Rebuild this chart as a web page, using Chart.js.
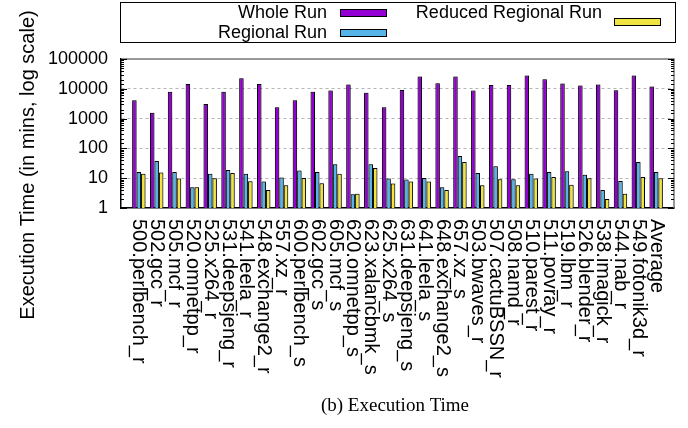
<!DOCTYPE html>
<html><head><meta charset="utf-8">
<script src="https://cdn.jsdelivr.net/npm/chart.js@4.4.1/dist/chart.umd.min.js"></script>
<style>html,body{margin:0;padding:0;background:#fff;}canvas{display:block;}</style>
</head><body>
<canvas id="c" width="688" height="428"></canvas>
<script>
const categories = ['500.perlbench_r','502.gcc_r','505.mcf_r','520.omnetpp_r','525.x264_r','531.deepsjeng_r','541.leela_r','548.exchange2_r','557.xz_r','600.perlbench_s','602.gcc_s','605.mcf_s','620.omnetpp_s','623.xalancbmk_s','625.x264_s','631.deepsjeng_s','641.leela_s','648.exchange2_s','657.xz_s','503.bwaves_r','507.cactuBSSN_r','508.namd_r','510.parest_r','511.povray_r','519.lbm_r','526.blender_r','538.imagick_r','544.nab_r','549.fotonik3d_r','Average'];
const wholeRun = [4100,1580,8000,14600,3100,8000,22500,14600,2400,4100,8000,8700,14000,7400,2400,9200,25700,15400,25700,8700,13500,13500,27700,21000,15000,13000,14000,9000,28000,12000];
const regionalRun = [16,38,16,5,14,19,14,7.7,10.5,18,16,29.6,2.9,29.6,9.8,9,10.2,5,56,15,25,9.2,14,16,17,13,4,8,35,16];
const reducedRegionalRun = [14,15.5,9.8,5,10,15,7.9,4,5.8,10.2,6.8,14,3,22,6.6,7.7,7.7,4,35,5.8,9.2,5.8,9.8,11,6,10,2,3,11,10];
const seriesNames = ['Whole Run','Regional Run','Reduced Regional Run'];
const seriesColors = ['#9400D3','#56B4E9','#F0E442'];
const yMin = 1, yMax = 100000;
const yTitle = 'Execution Time (in mins, log scale)';
const caption = '(b) Execution Time';

const FONT = "'Liberation Sans', Arial, sans-serif";
const seriesData = [wholeRun, regionalRun, reducedRegionalRun];
const isMajor = v => Math.abs(Math.log10(v) - Math.round(Math.log10(v))) < 1e-9;

const decorPlugin = {
  id: 'decor',
  beforeDatasetsDraw(chart) {
    const ctx = chart.ctx;
    ctx.save();
    ctx.shadowColor = 'rgba(0,0,0,0.45)';
    ctx.shadowBlur = 2;
  },
  afterDatasetsDraw(chart) {
    const ctx = chart.ctx;
    ctx.restore();
    const a = chart.chartArea, y = chart.scales.y;
    ctx.save();
    ctx.strokeStyle = '#777'; ctx.lineWidth = 1.5;
    ctx.beginPath(); ctx.moveTo(a.left, a.top); ctx.lineTo(a.right, a.top); ctx.lineTo(a.right, a.bottom); ctx.stroke();
    ctx.strokeStyle = '#000'; ctx.lineWidth = 1;
    y.ticks.forEach(t => {
      const py = Math.round(y.getPixelForValue(t.value)) + 0.5;
      const len = isMajor(t.value) ? 6 : 3;
      ctx.beginPath(); ctx.moveTo(a.left, py); ctx.lineTo(a.left + len, py);
      ctx.moveTo(a.right, py); ctx.lineTo(a.right - len, py); ctx.stroke();
    });
    ctx.restore();
  },
  afterDraw(chart) {
    const ctx = chart.ctx, x = chart.scales.x, a = chart.chartArea;
    ctx.save();
    ctx.fillStyle = '#000';
    ctx.font = '20px ' + FONT;
    ctx.textAlign = 'left'; ctx.textBaseline = 'middle';
    categories.forEach((c, i) => {
      const px = x.getPixelForValue(i);
      ctx.save(); ctx.translate(px, a.bottom + 11); ctx.rotate(Math.PI / 2); ctx.fillText(c, 0, 0); ctx.restore();
    });
    ctx.save(); ctx.translate(28, 165); ctx.rotate(-Math.PI / 2);
    ctx.textAlign = 'center'; ctx.font = '20px ' + FONT; ctx.fillText(yTitle, 0, 0); ctx.restore();
    // legend
    ctx.strokeStyle = '#000'; ctx.lineWidth = 1;
    ctx.strokeRect(120.5, 2.5, 555, 40);
    ctx.font = '18px ' + FONT; ctx.textAlign = 'right'; ctx.textBaseline = 'alphabetic';
    const textPos = [[327, 18], [327, 38], [602, 18]];
    const swPos = [[340, 9], [340, 29], [614, 18]];
    seriesNames.forEach((n, i) => {
      ctx.fillStyle = '#000'; ctx.fillText(n, textPos[i][0], textPos[i][1]);
      const [sx, sy] = swPos[i];
      ctx.fillStyle = seriesColors[i];
      ctx.fillRect(sx, sy, 47, 8);
      ctx.strokeRect(sx + 0.5, sy + 0.5, 46, 7);
    });
    ctx.fillStyle = '#000'; ctx.textAlign = 'center';
    ctx.font = "19px 'Liberation Serif', 'Times New Roman', serif";
    ctx.fillText(caption, 395, 411);
    ctx.restore();
  }
};

new Chart(document.getElementById('c'), {
  type: 'bar',
  data: {
    datasets: seriesNames.map((n, k) => ({
      label: n,
      data: seriesData[k].map((v, i) => ({x: i, y: v})),
      backgroundColor: seriesColors[k],
      borderColor: '#000',
      borderWidth: 1,
      categoryPercentage: 0.75,
      barPercentage: 1.0
    }))
  },
  options: {
    responsive: false,
    animation: false,
    devicePixelRatio: 1,
    layout: {padding: {left: 0, right: 14, top: 59, bottom: 0}},
    plugins: {legend: {display: false}, tooltip: {enabled: false}, title: {display: false}},
    scales: {
      x: {
        type: 'linear', min: -1, max: 30, offset: false,
        ticks: {display: false},
        grid: {display: false, offset: false},
        border: {display: true, color: '#000', width: 1.5},
        afterFit: s => { s.height = 220; }
      },
      y: {
        type: 'logarithmic', min: yMin, max: yMax,
        afterFit: s => { s.width = 121; },
        ticks: {
          autoSkip: false, padding: 13, color: '#000',
          font: {family: FONT, size: 18},
          callback: v => isMajor(v) ? String(Math.round(v)) : ''
        },
        grid: {
          drawTicks: false,
          color: c => (c.tick && isMajor(c.tick.value) && c.tick.value > yMin && c.tick.value < yMax) ? '#b5b5b5' : 'rgba(0,0,0,0)',
          lineWidth: 1
        },
        border: {display: true, color: '#000', width: 1.5, dash: [3, 3]}
      }
    }
  },
  plugins: [decorPlugin]
});
</script>
</body></html>
